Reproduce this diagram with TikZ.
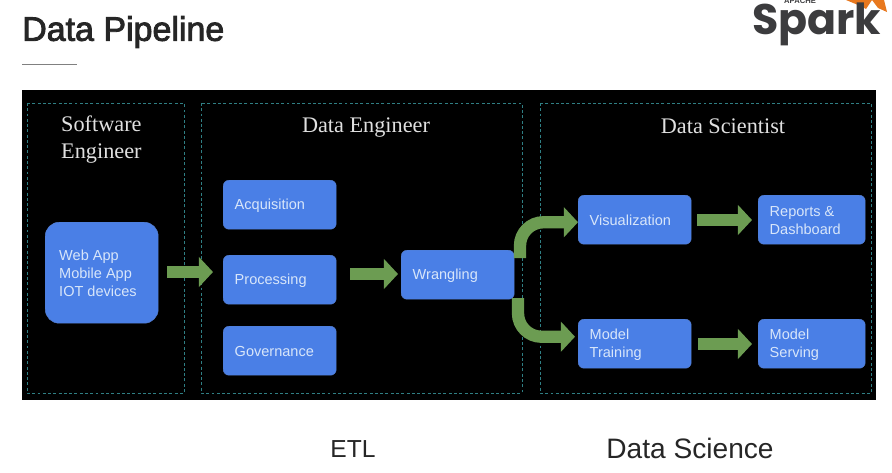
\documentclass[tikz,border=0pt]{standalone}
\usepackage{fontspec}
\setmainfont{Liberation Sans}
\newfontfamily\titlefont[FakeBold=2.5]{Liberation Sans}
\newfontfamily\headfont{Liberation Serif}
\newfontfamily\logofont{Poppins}
\usepackage{xcolor}
\usepackage{tikz}
\usetikzlibrary{calc}
\usetikzlibrary{arrows.meta}
\definecolor{boxblue}{HTML}{4A7FE6}
\definecolor{boxtext}{HTML}{D8E6FA}
\definecolor{flowgreen}{HTML}{6C9C52}
\definecolor{dashteal}{HTML}{2F7F84}
\definecolor{sparkgrey}{HTML}{3C3C3E}
\definecolor{sparkorange}{HTML}{E8781E}
\tikzset{
    lane/.style={draw=dashteal, dashed, dash pattern=on 2.5pt off 2pt, line width=0.8pt},
    lanetitle/.style={font=\headfont\fontsize{19}{23}\selectfont, text=white!88!black, align=left},
    stage/.style={draw=boxblue!80!gray, fill=boxblue, rounded corners=5pt, anchor=north west, inner sep=0pt},
    stagetext/.style={text=boxtext, font=\fontsize{12.4}{15}\selectfont, align=left, anchor=west, inner sep=0pt},
    flow/.style={draw=flowgreen, line width=10.5pt, rounded corners=20pt,
        -{Triangle[width=25pt,length=12pt,fill=flowgreen]}},
    bottomlabel/.style={text=black!85},
}
\begin{document}
\begin{tikzpicture}[x=0.03cm, y=-0.03cm]
            \useasboundingbox (0, 0) rectangle (892, 472);

            \node [font=\titlefont\fontsize{29}{34}\selectfont, text=black!85, anchor=west, inner sep=0pt] (title) at (22, 32) {Data Pipeline};
            \coordinate (ruleA) at (22, 64);
            \coordinate (ruleB) at (77, 64);
            \draw [gray, line width=0.6pt] (ruleA) -- (ruleB);

            % logo
            \fill [sparkorange] (846, 0) -- (858, 5) -- (866, 9) -- (872, 0) -- cycle;
            \fill [sparkorange] (872, 0) -- (878, 8) -- (887, 12) -- (884, 0) -- cycle;
            \node [font=\logofont\fontsize{36.5}{37}\selectfont\bfseries, text=sparkgrey, anchor=base west, inner sep=0pt] (spark) at (752, 34) {Spark};
            \begin{scope}
                \clip (700, 0) rectangle (892, 10);
                \node [font=\fontsize{6.5}{7}\selectfont\bfseries, text=sparkgrey, anchor=base west, inner sep=0pt] (apache) at (784, 3) {APACHE};
            \end{scope}

            \fill [black] (22, 90) rectangle (876, 400);
            \draw [lane] (27, 103) rectangle (184, 393);
            \draw [lane] (201, 103) rectangle (522, 393);
            \draw [lane] (540, 103) rectangle (871, 393);

            \node [lanetitle, anchor=north west, inner sep=0pt] (software) at (61, 115.5) {Software\\Engineer};
            \node [lanetitle] (engineer) at (366, 128) {Data Engineer};
            \node [lanetitle] (scientist) at (723, 126) {Data Scientist};

            \node [stage, rounded corners=12pt, minimum width=113*0.03cm, minimum height=101*0.03cm] (apps) at (45, 222) {};
            \node [stagetext, font=\fontsize{12.4}{15.5}\selectfont] (appstext) at (59, 273) {Web App\\Mobile App\\IOT devices};

            \foreach \name/\txt/\xa/\ya/\w in {acquisition/Acquisition/223/180/113, processing/Processing/223/255/113,
                governance/Governance/223/326/113, wrangling/Wrangling/401/250/113,
                visualization/Visualization/578/195/113, reports/{Reports \&\\Dashboard}/758/195/107,
                training/{Model\\Training}/578/319/113, serving/{Model\\Serving}/758/319/107} {
                \node [stage, minimum width=\w*0.03cm, minimum height=49*0.03cm] (\name) at (\xa, \ya) {};
                \node [stagetext] (\name text) at ($(\name.west)+(11.5, 1)$) {\txt};
            }

            \coordinate (appsout) at (167, 272);
            \draw [flow, shorten >=10*0.03cm] (appsout) -- (appsout -| processing.west);
            \coordinate (procout) at (350, 274);
            \draw [flow, shorten >=3*0.03cm] (procout) -- (procout -| wrangling.west);
            \coordinate (upfoot) at (520, 258);
            \coordinate (uptip) at ($(visualization.west)+(0, 2.5)$);
            \draw [flow] (upfoot) -- (upfoot |- uptip) -- (uptip);
            \coordinate (downfoot) at (518, 298);
            \coordinate (downtip) at ($(training.west)+(-3, -7)$);
            \draw [flow] (downfoot) -- (downfoot |- downtip) -- (downtip);
            \coordinate (visout) at (697, 220);
            \draw [flow, shorten >=6*0.03cm] (visout) -- (visout -| reports.west);
            \coordinate (trainout) at (698, 344);
            \draw [flow, shorten >=6*0.03cm] (trainout) -- (trainout -| serving.west);

            \node [bottomlabel, font=\fontsize{21}{25}\selectfont] (etl) at (353, 449) {ETL};
            \node [bottomlabel, font=\fontsize{24}{28}\selectfont] (science) at (690, 448) {Data Science};
        \end{tikzpicture}
\end{document}
